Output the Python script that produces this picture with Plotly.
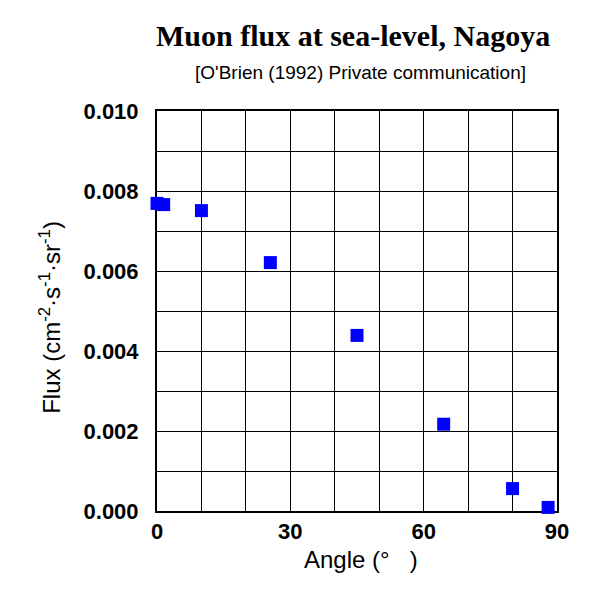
import plotly.graph_objects as go

angles = [0, 1.5, 10, 25.5, 45, 64.5, 80, 88]
flux = [0.00769, 0.00766, 0.00751, 0.00621, 0.00439, 0.00217, 0.00056, 0.00009]

x_ticks = [0, 30, 60, 90]
y_ticks = [0.000, 0.002, 0.004, 0.006, 0.008, 0.010]
y_ticktext = ["0.000", "0.002", "0.004", "0.006", "0.008", "0.010"]

fig = go.Figure()
fig.add_trace(go.Scatter(
    x=angles, y=flux, mode="markers",
    marker=dict(symbol="square", size=13, color="#0000FF", line=dict(width=0)),
    cliponaxis=False, showlegend=False,
))

axis_common = dict(
    showline=True, linecolor="black", linewidth=2, mirror=True,
    showgrid=True, gridcolor="black", gridwidth=1,
    zeroline=False, ticks="", layer="below traces", automargin=False,
    tickfont=dict(family="Liberation Sans, Arial", size=22, color="black", weight="bold"),
)

fig.update_xaxes(
    range=[0, 90], tickvals=x_ticks, ticktext=[str(v) for v in x_ticks],
    minor=dict(dtick=10, showgrid=True, gridcolor="black", gridwidth=1),
    ticklabelstandoff=0,
    **axis_common,
)
fig.update_yaxes(
    range=[0, 0.010], tickvals=y_ticks, ticktext=y_ticktext,
    minor=dict(dtick=0.001, showgrid=True, gridcolor="black", gridwidth=1),
    ticklabelstandoff=12,
    **axis_common,
)

sans = "Liberation Sans, Arial"
fig.update_layout(
    width=592, height=592,
    margin=dict(l=149, r=43, t=103, b=89),
    paper_bgcolor="white", plot_bgcolor="white",
    annotations=[
        dict(text="<b>Muon flux at sea-level, Nagoya</b>", xref="paper", yref="paper",
             x=0.491, y=1.19, xanchor="center", yanchor="middle", showarrow=False,
             font=dict(family="Liberation Serif, Times New Roman", size=30, color="black")),
        dict(text="[O'Brien (1992) Private communication]", xref="paper", yref="paper",
             x=0.5075, y=1.0975, xanchor="center", yanchor="middle", showarrow=False,
             font=dict(family=sans, size=19, color="black")),
        dict(text="Angle (°\u00a0\u00a0\u00a0)", xref="paper", yref="paper",
             x=0.51, y=-0.12, xanchor="center", yanchor="middle", showarrow=False,
             font=dict(family=sans, size=24, color="black")),
        dict(text="Flux (cm<sup>-2</sup>·s<sup>-1</sup>·sr<sup>-1</sup>)", xref="paper", yref="paper",
             x=-0.268, y=0.485, xanchor="center", yanchor="middle", showarrow=False,
             textangle=-90, font=dict(family=sans, size=24, color="black")),
    ],
)

fig.write_html("out.html")
